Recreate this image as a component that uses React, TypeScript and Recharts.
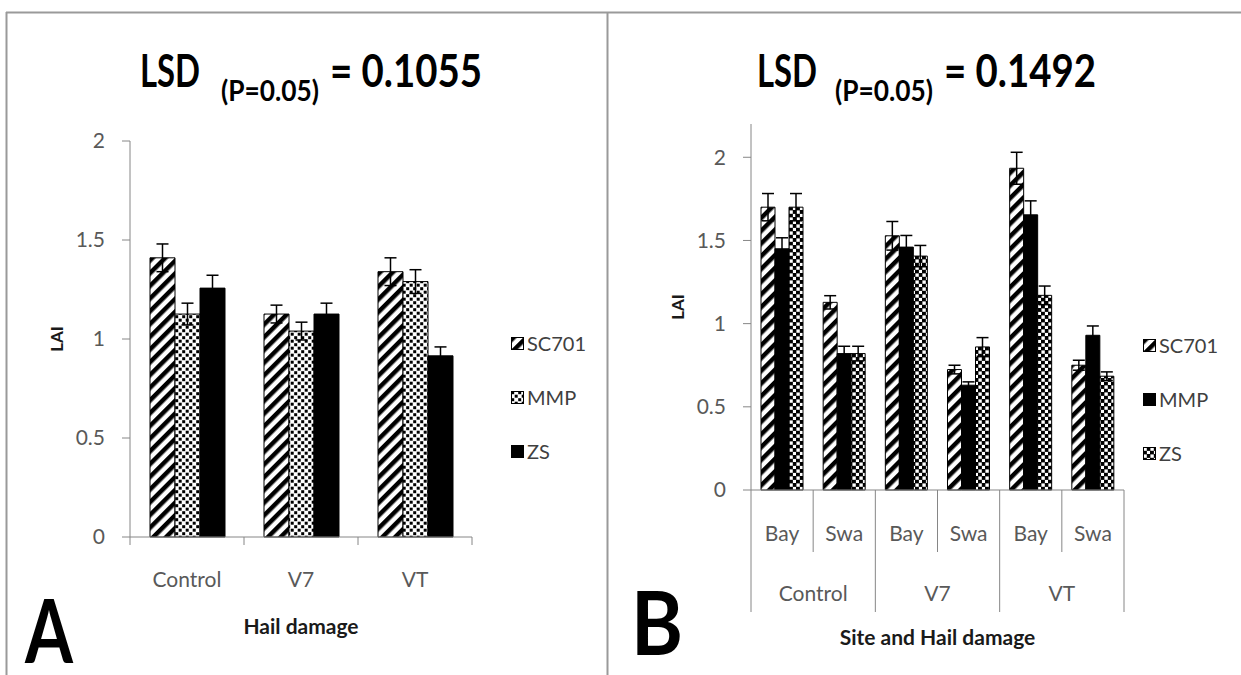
import React from "react";
import { BarChart, Bar, XAxis, YAxis, ErrorBar, Legend } from "recharts";

const FONT = "Lato, 'Open Sans', sans-serif";
const AXIS = "#868686";
const TICK = "#595959";
const FRAME = "#9a9a9a";

// Panel A: leaf area index by hail damage stage
const hailDamage = ["Control", "V7", "VT"];
const aSC701 = [1.41, 1.126, 1.34];
const aSC701Err = [0.07, 0.045, 0.07];
const aMMP = [1.126, 1.04, 1.29];
const aMMPErr = [0.055, 0.045, 0.06];
const aZS = [1.257, 1.126, 0.915];
const aZSErr = [0.065, 0.055, 0.045];
const aTicks = [0, 0.5, 1, 1.5, 2];

// Panel B: leaf area index by site and hail damage stage
const sites = ["Bay", "Swa", "Bay", "Swa", "Bay", "Swa"];
const siteDamage = ["Control", "Control", "V7", "V7", "VT", "VT"];
const bSC701 = [1.7, 1.128, 1.528, 0.724, 1.934, 0.75];
const bSC701Err = [0.082, 0.04, 0.086, 0.026, 0.096, 0.03];
const bMMP = [1.45, 0.82, 1.46, 0.63, 1.654, 0.93];
const bMMPErr = [0.066, 0.044, 0.07, 0.02, 0.084, 0.056];
const bZS = [1.7, 0.82, 1.406, 0.86, 1.17, 0.684];
const bZSErr = [0.082, 0.044, 0.064, 0.056, 0.056, 0.026];
const bTicks = [0, 0.5, 1, 1.5, 2];

const varieties = ["SC701", "MMP", "ZS"];

const dataA = hailDamage.map((damage, i) => ({
  damage,
  sc701: aSC701[i],
  sc701Err: aSC701Err[i],
  mmp: aMMP[i],
  mmpErr: aMMPErr[i],
  zs: aZS[i],
  zsErr: aZSErr[i],
}));

const dataB = sites.map((site, i) => ({
  site,
  damage: siteDamage[i],
  sc701: bSC701[i],
  sc701Err: bSC701Err[i],
  mmp: bMMP[i],
  mmpErr: bMMPErr[i],
  zs: bZS[i],
  zsErr: bZSErr[i],
}));

// chart boxes
const H = 675;
const A_W = 607;
const A_MARGIN = { top: 141, right: 135, bottom: 108, left: 70 };
const B_LEFT = 607;
const B_W = 634;
const B_MARGIN = { top: 124, right: 117, bottom: 125, left: 84 };
const Y_W = 60;
const BAND_A = (A_W - A_MARGIN.left - A_MARGIN.right - Y_W) / hailDamage.length;
const BAND_B = (B_W - B_MARGIN.left - B_MARGIN.right - Y_W) / sites.length;

const tickText = { fill: TICK, fontSize: 21, fontFamily: FONT };

function DamageTick(props: any) {
  const { x, y, payload, index } = props;
  const half = BAND_A / 2;
  return (
    <g>
      <line x1={x - half} x2={x - half} y1={y} y2={y + 8} stroke={AXIS} />
      {index === hailDamage.length - 1 && (
        <line x1={x + half} x2={x + half} y1={y} y2={y + 8} stroke={AXIS} />
      )}
      <text x={x} y={y + 41} textAnchor="middle" dominantBaseline="central" {...tickText}>
        {payload.value}
      </text>
    </g>
  );
}

function SiteTick(props: any) {
  const { x, y, payload, index } = props;
  const half = BAND_B / 2;
  const groupEdge = index % 2 === 0;
  return (
    <g>
      <line x1={x - half} x2={x - half} y1={y} y2={y + (groupEdge ? 122 : 62)} stroke={AXIS} />
      {index === sites.length - 1 && (
        <line x1={x + half} x2={x + half} y1={y} y2={y + 122} stroke={AXIS} />
      )}
      <text x={x} y={y + 42} textAnchor="middle" dominantBaseline="central" {...tickText}>
        {payload.value}
      </text>
    </g>
  );
}

function GroupTick(props: any) {
  const { x, y, payload } = props;
  // second axis sits 30px below the site axis
  return (
    <text x={x} y={y + 72} textAnchor="middle" dominantBaseline="central" {...tickText}>
      {payload.value}
    </text>
  );
}

const xTitle = (text: string, dy: number) => (props: any) => {
  const vb = props.viewBox;
  return (
    <text
      x={vb.x + vb.width / 2}
      y={vb.y + dy}
      textAnchor="middle"
      dominantBaseline="central"
      fontFamily={FONT}
      fontWeight={700}
      fontSize={21}
      fill="#1a1a1a"
    >
      {text}
    </text>
  );
};

const yTitle = (props: any) => {
  const vb = props.viewBox;
  const cx = vb.x - 14;
  const cy = vb.y + vb.height / 2;
  return (
    <text
      x={cx}
      y={cy}
      transform={`rotate(-90 ${cx} ${cy})`}
      textAnchor="middle"
      dominantBaseline="central"
      fontFamily={FONT}
      fontWeight={700}
      fontSize={17}
      fill="#1a1a1a"
    >
      LAI
    </text>
  );
};

function LegendList(props: any) {
  const items = [...(props.payload || [])].sort(
    (a: any, b: any) => varieties.indexOf(a.value) - varieties.indexOf(b.value)
  );
  return (
    <div style={{ fontFamily: FONT, fontSize: 20, color: "#404040" }}>
      {items.map((entry: any) => (
        <div key={entry.value} style={{ display: "flex", alignItems: "center", height: 54 }}>
          <svg width={13} height={13} style={{ marginRight: 3 }}>
            <rect x={0.5} y={0.5} width={12} height={12} fill={entry.color} stroke="#000" />
          </svg>
          <span>{entry.value}</span>
        </div>
      ))}
    </div>
  );
}

function Patterns() {
  return (
    <defs>
      <pattern id="hatch" patternUnits="userSpaceOnUse" width={9} height={9} patternTransform="rotate(45)">
        <rect width={9} height={9} fill="#fff" />
        <rect width={4.5} height={9} fill="#000" />
      </pattern>
      <pattern id="dots" patternUnits="userSpaceOnUse" width={7} height={7}>
        <rect width={7} height={7} fill="#fff" />
        <rect x={0.2} y={0.2} width={3} height={3} fill="#000" />
        <rect x={3.7} y={3.7} width={3} height={3} fill="#000" />
      </pattern>
      <pattern id="lattice" patternUnits="userSpaceOnUse" width={7} height={7}>
        <rect width={7} height={7} fill="#000" />
        <rect x={0.4} y={0.4} width={3.4} height={3.4} fill="#fff" />
        <rect x={3.9} y={3.9} width={3.4} height={3.4} fill="#fff" />
      </pattern>
    </defs>
  );
}

function Heading({ x, sub, value }: { x: number; sub: number; value: string }) {
  const big = { fontFamily: FONT, fontWeight: 700, fontSize: 46, fill: "#000" } as const;
  return (
    <g>
      <text x={x} y={87} textLength={60} lengthAdjust="spacingAndGlyphs" {...big}>
        LSD
      </text>
      <text
        x={sub}
        y={101}
        textLength={98}
        lengthAdjust="spacingAndGlyphs"
        fontFamily={FONT}
        fontWeight={700}
        fontSize={28}
        fill="#000"
      >
        (P=0.05)
      </text>
      <text x={sub + 109} y={87} textLength={152} lengthAdjust="spacingAndGlyphs" {...big}>
        {value}
      </text>
    </g>
  );
}

export default function App() {
  return (
    <div
      style={{
        position: "absolute",
        left: 0,
        top: 0,
        width: 1241,
        height: H,
        background: "#fff",
        overflow: "hidden",
      }}
    >
      <div style={{ position: "absolute", left: 0, top: 0 }}>
        <BarChart width={A_W} height={H} data={dataA} margin={A_MARGIN} barGap={0}>
          <XAxis
            dataKey="damage"
            height={30}
            interval={0}
            tickSize={0}
            tickMargin={0}
            tickLine={false}
            axisLine={{ stroke: AXIS }}
            tick={DamageTick}
            label={xTitle("Hail damage", 88)}
          />
          <YAxis
            domain={[0, 2]}
            ticks={aTicks}
            width={Y_W}
            tickSize={8}
            tickMargin={17}
            axisLine={{ stroke: AXIS }}
            tickLine={{ stroke: AXIS }}
            tick={tickText}
            label={yTitle}
          />
          <Legend
            layout="vertical"
            align="center"
            verticalAlign="middle"
            content={LegendList}
            wrapperStyle={{ left: 511, top: 316, width: 90 }}
          />
          <Bar dataKey="sc701" name="SC701" fill="url(#hatch)" stroke="#000" barSize={25} isAnimationActive={false}>
            <ErrorBar dataKey="sc701Err" width={6} stroke="#000" strokeWidth={1.5} isAnimationActive={false} />
          </Bar>
          <Bar dataKey="mmp" name="MMP" fill="url(#dots)" stroke="#000" barSize={25} isAnimationActive={false}>
            <ErrorBar dataKey="mmpErr" width={6} stroke="#000" strokeWidth={1.5} isAnimationActive={false} />
          </Bar>
          <Bar dataKey="zs" name="ZS" fill="#000" stroke="#000" barSize={25} isAnimationActive={false}>
            <ErrorBar dataKey="zsErr" width={6} stroke="#000" strokeWidth={1.5} isAnimationActive={false} />
          </Bar>
        </BarChart>
      </div>

      <div style={{ position: "absolute", left: B_LEFT, top: 0 }}>
        <BarChart width={B_W} height={H} data={dataB} margin={B_MARGIN} barGap={0}>
          <XAxis
            xAxisId={0}
            dataKey="site"
            height={30}
            interval={0}
            tickSize={0}
            tickMargin={0}
            tickLine={false}
            axisLine={{ stroke: AXIS }}
            tick={SiteTick}
          />
          <XAxis
            xAxisId={1}
            dataKey="damage"
            allowDuplicatedCategory={false}
            height={30}
            interval={0}
            tickSize={0}
            tickMargin={0}
            tickLine={false}
            axisLine={false}
            tick={GroupTick}
            label={xTitle("Site and Hail damage", 116)}
          />
          <YAxis
            domain={[0, 2.2]}
            ticks={bTicks}
            width={Y_W}
            tickSize={8}
            tickMargin={17}
            axisLine={{ stroke: AXIS }}
            tickLine={{ stroke: AXIS }}
            tick={tickText}
            label={yTitle}
          />
          <Legend
            layout="vertical"
            align="center"
            verticalAlign="middle"
            content={LegendList}
            wrapperStyle={{ left: 536, top: 318, width: 90 }}
          />
          <Bar xAxisId={0} dataKey="sc701" name="SC701" fill="url(#hatch)" stroke="#000" barSize={14} isAnimationActive={false}>
            <ErrorBar dataKey="sc701Err" width={6} stroke="#000" strokeWidth={1.5} isAnimationActive={false} />
          </Bar>
          <Bar xAxisId={0} dataKey="mmp" name="MMP" fill="#000" stroke="#000" barSize={14} isAnimationActive={false}>
            <ErrorBar dataKey="mmpErr" width={6} stroke="#000" strokeWidth={1.5} isAnimationActive={false} />
          </Bar>
          <Bar xAxisId={0} dataKey="zs" name="ZS" fill="url(#lattice)" stroke="#000" barSize={14} isAnimationActive={false}>
            <ErrorBar dataKey="zsErr" width={6} stroke="#000" strokeWidth={1.5} isAnimationActive={false} />
          </Bar>
        </BarChart>
      </div>

      {/* frame, panel letters and LSD headings */}
      <svg
        width={1241}
        height={H}
        style={{ position: "absolute", left: 0, top: 0, pointerEvents: "none" }}
      >
        <Patterns />
        <line x1={6} x2={1241} y1={12.5} y2={12.5} stroke={FRAME} strokeWidth={2} />
        <line x1={6.5} x2={6.5} y1={12} y2={H} stroke={FRAME} strokeWidth={2} />
        <line x1={607.5} x2={607.5} y1={12} y2={H} stroke={FRAME} strokeWidth={2} />
        <Heading x={140} sub={221} value="= 0.1055" />
        <Heading x={757} sub={835} value="= 0.1492" />
        <text x={25} y={663} fontFamily={FONT} fontWeight={700} fontSize={88} textLength={48} lengthAdjust="spacingAndGlyphs">
          A
        </text>
        <text x={631} y={655} fontFamily={FONT} fontWeight={700} fontSize={88} textLength={52} lengthAdjust="spacingAndGlyphs">
          B
        </text>
      </svg>
    </div>
  );
}
